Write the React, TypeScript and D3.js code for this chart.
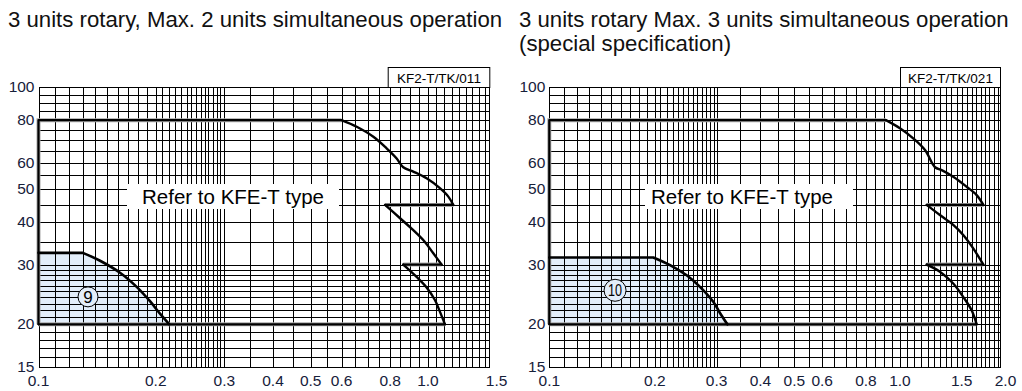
import { useEffect, useRef } from 'react'
import * as d3 from 'd3'

type Pt = [number, number]

// pressure axis (same on both charts)
const Y_TICKS = [15, 20, 30, 40, 50, 60, 80, 100]
const Y_GRID = [15, 16, 17, 18, 19, 20, 21, 22, 23, 24, 25, 26, 27, 28, 29, 30,
  35, 40, 45, 50, 55, 60, 65, 70, 75, 80, 85, 90, 95, 100]

// flow axis
const LEFT_X_TICKS = [0.1, 0.2, 0.3, 0.4, 0.5, 0.6, 0.8, 1.0, 1.5]
const RIGHT_X_TICKS = [0.1, 0.2, 0.3, 0.4, 0.5, 0.6, 0.8, 1.0, 1.5, 2.0]

const LEFT_X_GRID = [0.1, 0.11, 0.12, 0.13, 0.14, 0.15, 0.16, 0.17, 0.18, 0.19, 0.2,
  0.208, 0.216, 0.224, 0.232, 0.24, 0.247, 0.254, 0.261, 0.267, 0.273, 0.28, 0.287, 0.293, 0.3,
  0.35, 0.4, 0.45, 0.5, 0.55, 0.6, 0.65, 0.7, 0.75, 0.8, 0.85, 0.9, 0.95, 1.0,
  1.05, 1.1, 1.15, 1.2, 1.25, 1.3, 1.35, 1.4]
const RIGHT_X_GRID = [0.1, 0.11, 0.12, 0.13, 0.14, 0.15, 0.16, 0.17, 0.18, 0.19, 0.2,
  0.207, 0.216, 0.225, 0.233, 0.241, 0.249, 0.257, 0.264, 0.272, 0.279, 0.287, 0.295, 0.3,
  0.35, 0.4, 0.45, 0.5, 0.55, 0.6, 0.65, 0.7, 0.75, 0.8, 0.85, 0.9, 0.95, 1.0,
  1.05, 1.1, 1.15, 1.2, 1.25, 1.3, 1.35, 1.4, 1.45, 1.5, 1.55, 1.6, 1.65, 1.7,
  1.75, 1.8, 1.85, 1.9]

// left chart: KF2-T/TK/011
const LEFT_TOP: Pt[] = [[0.1, 20], [0.1, 80], [0.6, 80]]
const LEFT_CURVE_A: Pt[] = [[0.6, 80], [0.656, 76.5], [0.724, 71.5], [0.783, 66.1], [0.831, 61.7],
  [0.864, 58.1], [0.917, 56.4], [0.992, 53.9], [1.073, 50.4], [1.128, 47.6], [1.161, 45]]
const LEFT_CURVE_B: Pt[] = [[0.776, 45], [0.848, 41.1], [0.917, 37.9], [0.982, 35],
  [1.032, 32.4], [1.084, 30]]
const LEFT_CURVE_C: Pt[] = [[0.864, 30], [0.935, 27.6], [0.992, 25.7], [1.042, 23.6],
  [1.073, 21.8], [1.106, 20]]
// shaded region "9": flat top, then the falling curve
const LEFT_SHADE_TOP: Pt[] = [[0.1, 32.5], [0.13, 32.5]]
const LEFT_SHADE_CURVE: Pt[] = [[0.13, 32.5], [0.1439, 30.8], [0.1619, 28.4],
  [0.1787, 25.8], [0.1933, 23.4], [0.2051, 21.5], [0.2167, 20]]

// right chart: KF2-T/TK/021
const RIGHT_TOP: Pt[] = [[0.1, 20], [0.1, 80], [0.912, 80]]
const RIGHT_CURVE_A: Pt[] = [[0.912, 80], [1.0, 75.7], [1.091, 70.7], [1.179, 65.3], [1.259, 58.1],
  [1.315, 57.0], [1.419, 54.5], [1.55, 50.9], [1.655, 48.1], [1.729, 45]]
const RIGHT_CURVE_B: Pt[] = [[1.192, 45], [1.3, 42.0], [1.419, 39.3], [1.515, 36.7],
  [1.618, 33.5], [1.729, 30]]
const RIGHT_CURVE_C: Pt[] = [[1.192, 30], [1.3, 28.6], [1.419, 26.4], [1.515, 24.1],
  [1.601, 22.0], [1.655, 20]]
// shaded region "10"
const RIGHT_SHADE_TOP: Pt[] = [[0.1, 31.5], [0.198, 31.5]]
const RIGHT_SHADE_CURVE: Pt[] = [[0.198, 31.5], [0.221, 29.9], [0.2465, 27.9],
  [0.269, 25.8], [0.2935, 23.3], [0.3067, 21.6], [0.322, 20]]

const CHARTS = [
  {
    title: ['3 units rotary, Max. 2 units simultaneous operation'],
    titleX: 8,
    code: 'KF2-T/TK/011',
    x0: 38.5, x1: 489.3, xMax: 1.437,
    xTicks: LEFT_X_TICKS, xGrid: LEFT_X_GRID,
    top: LEFT_TOP, curves: [LEFT_CURVE_A, LEFT_CURVE_B, LEFT_CURVE_C],
    shadeTop: LEFT_SHADE_TOP, shadeCurve: LEFT_SHADE_CURVE,
    mark: '9', markAt: [0.134, 24.1] as Pt,
    refer: [127, 339], referText: 233,
    codeBox: [387.7, 489.3],
  },
  {
    title: ['3 units rotary Max. 3 units simultaneous operation', '(special specification)'],
    titleX: 519,
    code: 'KF2-T/TK/021',
    x0: 549.3, x1: 1000, xMax: 1.929,
    xTicks: RIGHT_X_TICKS, xGrid: RIGHT_X_GRID,
    top: RIGHT_TOP, curves: [RIGHT_CURVE_A, RIGHT_CURVE_B, RIGHT_CURVE_C],
    shadeTop: RIGHT_SHADE_TOP, shadeCurve: RIGHT_SHADE_CURVE,
    mark: '10', markAt: [0.154, 25.2] as Pt,
    refer: [645, 853], referText: 742,
    codeBox: [900, 1000],
  },
]

const TOP = 87.3
const BOTTOM = 366.7
const FONT = 'Liberation Sans, Arial, Helvetica, sans-serif'
const LABEL = '#16203a'
const SHADE = '#e3eefa'

function drawChart(g: d3.Selection<SVGGElement, unknown, null, undefined>, c: typeof CHARTS[number]) {
  const x = d3.scaleLog().domain([0.1, c.xMax]).range([c.x0, c.x1])
  const y = d3.scaleLog().domain([15, 100]).range([BOTTOM, TOP])
  const px = (p: Pt): Pt => [x(p[0]), y(p[1])]
  const smooth = d3.line().curve(d3.curveCatmullRom.alpha(0.5))
  const lin = d3.line()

  // titles
  c.title.forEach((t, i) => {
    g.append('text')
      .attr('x', c.titleX).attr('y', 27 + i * 24)
      .attr('font-size', 22.2).attr('fill', '#111')
      .text(t)
  })

  // shaded region under the numbered curve
  const topD = lin(c.shadeTop.map(px)) as string
  const curveD = smooth(c.shadeCurve.map(px)) as string
  g.append('path')
    .attr('d', `${topD} L${curveD.slice(1)} L${x(0.1)},${y(20)} Z`)
    .attr('fill', SHADE)

  // grid
  const grid = g.append('g').attr('stroke', '#000').attr('stroke-width', 1)
    .attr('shape-rendering', 'crispEdges')
  c.xGrid.forEach(v => {
    const xx = Math.round(x(v)) + 0.5
    grid.append('line').attr('x1', xx).attr('x2', xx).attr('y1', TOP).attr('y2', BOTTOM)
  })
  Y_GRID.forEach(v => {
    const yy = Math.round(y(v)) + 0.5
    grid.append('line').attr('x1', c.x0).attr('x2', c.x1).attr('y1', yy).attr('y2', yy)
  })
  g.append('rect')
    .attr('x', Math.round(c.x0) + 0.5).attr('y', Math.round(TOP) + 0.5)
    .attr('width', Math.round(c.x1) - Math.round(c.x0)).attr('height', Math.round(BOTTOM) - Math.round(TOP))
    .attr('fill', 'none').attr('stroke', '#000').attr('shape-rendering', 'crispEdges')

  // envelope: straight steps + curves
  const curves = c.curves
  const straight: Pt[][] = [
    c.top,
    [curves[0][curves[0].length - 1], curves[1][0]],
    [curves[1][curves[1].length - 1], curves[2][0]],
    [curves[2][curves[2].length - 1], [0.1, 20]],
  ]
  straight.forEach(s => {
    g.append('path').attr('d', lin(s.map(px)))
      .attr('fill', 'none').attr('stroke', '#a8a8a8').attr('stroke-width', 4)
  })
  straight.forEach(s => {
    g.append('path').attr('d', lin(s.map(px)))
      .attr('fill', 'none').attr('stroke', '#000').attr('stroke-width', 2.2)
      .attr('stroke-linecap', 'round').attr('stroke-linejoin', 'round')
  })
  curves.forEach(cv => {
    g.append('path').attr('d', smooth(cv.map(px)))
      .attr('fill', 'none').attr('stroke', '#000').attr('stroke-width', 2.4)
      .attr('stroke-linecap', 'round')
  })
  g.append('path').attr('d', `${topD} L${curveD.slice(1)}`)
    .attr('fill', 'none').attr('stroke', '#000').attr('stroke-width', 2.6)
    .attr('stroke-linecap', 'round').attr('stroke-linejoin', 'round')

  // circled number
  const [mx, my] = px(c.markAt)
  g.append('circle').attr('cx', mx).attr('cy', my).attr('r', c.mark.length > 1 ? 11 : 10)
    .attr('fill', SHADE).attr('stroke', '#000').attr('stroke-width', 1)
  const mt = g.append('text').attr('x', mx).attr('y', my + 6)
    .attr('text-anchor', 'middle').attr('font-size', 17).attr('fill', '#000')
    .text(c.mark)
  if (c.mark.length > 1) mt.attr('textLength', 14).attr('lengthAdjust', 'spacingAndGlyphs')

  // "Refer to" box
  g.append('rect')
    .attr('x', c.refer[0]).attr('y', 184)
    .attr('width', c.refer[1] - c.refer[0]).attr('height', 25)
    .attr('fill', '#fff')
  g.append('text')
    .attr('x', c.referText).attr('y', 203.5)
    .attr('text-anchor', 'middle').attr('font-size', 20.5).attr('fill', '#000')
    .text('Refer to KFE-T type')

  // model code box
  g.append('rect')
    .attr('x', c.codeBox[0] + 0.5).attr('y', 67.5)
    .attr('width', c.codeBox[1] - c.codeBox[0]).attr('height', 20)
    .attr('fill', '#fff').attr('stroke', '#000').attr('stroke-width', 1)
  g.append('text')
    .attr('x', (c.codeBox[0] + c.codeBox[1]) / 2 + 0.5).attr('y', 82.5)
    .attr('text-anchor', 'middle').attr('font-size', 13.5).attr('fill', '#000')
    .text(c.code)

  // axis labels
  Y_TICKS.forEach(v => {
    g.append('text')
      .attr('x', c.x0 - 4).attr('y', y(v) + 5)
      .attr('text-anchor', 'end').attr('font-size', 15.5).attr('fill', LABEL)
      .text(v)
  })
  c.xTicks.forEach(v => {
    g.append('text')
      .attr('x', x(v)).attr('y', 386)
      .attr('text-anchor', 'middle').attr('font-size', 15.5).attr('fill', LABEL)
      .text(v.toFixed(1))
  })
}

export default function App() {
  const svgRef = useRef<SVGSVGElement>(null)

  useEffect(() => {
    if (!svgRef.current) return
    const svg = d3.select(svgRef.current)
    svg.selectAll('*').remove()
    svg.append('rect').attr('width', 1022).attr('height', 391).attr('fill', '#fff')
    CHARTS.forEach(c => {
      const g = svg.append('g').attr('font-family', FONT)
      drawChart(g, c)
    })
  }, [])

  return (
    <svg
      ref={svgRef}
      width={1022}
      height={391}
      style={{ position: 'absolute', left: 0, top: 0, display: 'block' }}
    />
  )
}
